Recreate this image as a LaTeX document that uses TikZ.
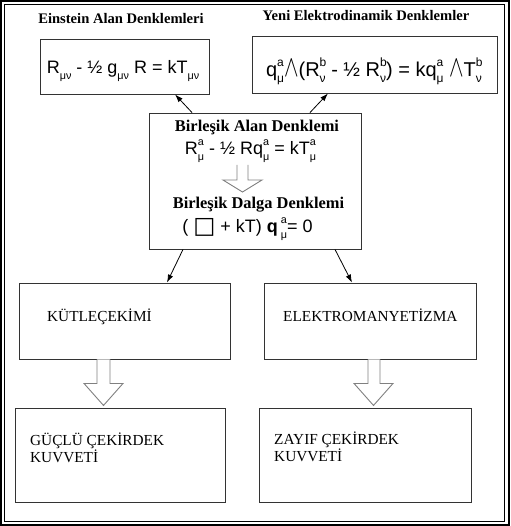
\documentclass[tikz,border=0pt]{standalone}
\usepackage{fontspec}
\usepackage{graphicx}
\setmainfont{Liberation Serif}
\newfontfamily\ar{Liberation Sans}
\newfontfamily\dv{DejaVu Sans}
\usetikzlibrary{arrows.meta}
\newcommand\Sub[1]{\raisebox{-0.3em}{\scalebox{0.6}{#1}}}
\newcommand\Sup[1]{\raisebox{0.5em}{\scalebox{0.6}{#1}}}
\newcommand\supsub[2]{\rlap{\Sup{#1}}\Sub{#2}}
\newcommand\wedgesym{\scalebox{1.05}[1.45]{$\wedge$}}
\begin{document}
\begin{tikzpicture}[x=1pt,y=-1pt,
  box/.style={draw=black!80, line width=0.9pt, inner sep=0pt},
  ttl/.style={font=\fontsize{14.6}{17}\selectfont\bfseries, inner sep=0pt, anchor=base},
  lbl/.style={font=\fontsize{15.3}{17}\selectfont, inner sep=0pt, anchor=base west, align=left},
  eq/.style={font=\ar\fontsize{18}{22}\selectfont, inner sep=0pt, anchor=base},
  arr/.style={draw=black, line width=0.8pt, -{Latex[length=8pt,width=5.5pt]}},
  hollow/.style={draw=black!50, line width=0.9pt, fill=white, line join=miter}]
\useasboundingbox (0,0) rectangle (510,526);
\draw[line width=2pt] (1,1) rectangle (509,525);
\draw[line width=1.5pt] (4.5,4.5) rectangle (504.5,521.5);

% boxes
\node[box, minimum width=169pt, minimum height=55pt] (b1) at (124.5,66.5) {};
\node[box, minimum width=245pt, minimum height=57pt] (b2) at (374.5,64.5) {};
\node[box, minimum width=212pt, minimum height=136pt] (c) at (255,181) {};
\node[box, minimum width=211pt, minimum height=76pt] (kut) at (124.5,321) {};
\node[box, minimum width=212pt, minimum height=76pt] (elk) at (370,321) {};
\node[box, minimum width=210pt, minimum height=94pt] (guc) at (120,455) {};
\node[box, minimum width=212pt, minimum height=94pt] (zay) at (365,455) {};

% titles
\node[ttl] (t1) at (121,23.5) {Einstein Alan Denklemleri};
\node[ttl] (t2) at (366,21) {Yeni Elektrodinamik Denklemler};
\node[eq] (f1) at (123,74) {R\Sub{μν} - ½ g\Sub{μν} R = kT\Sub{μν}};
\node[eq, font=\ar\fontsize{20}{24}\selectfont] (f2) at (374,77) {q\supsub{a}{μ}\wedgesym(R\supsub{b}{ν} - ½ R\supsub{b}{ν}) = kq\supsub{a}{μ} \wedgesym T\supsub{b}{ν}};

% central texts
\node[ttl, font=\fontsize{16.4}{19}\selectfont\bfseries] (t3) at (257,132) {Birleşik Alan Denklemi};
\node[eq] (f3) at (250.5,155) {R\supsub{a}{μ} - ½ Rq\supsub{a}{μ} = kT\supsub{a}{μ}};
\node[ttl, font=\fontsize{16.4}{19}\selectfont\bfseries] (t4) at (258.5,208) {Birleşik Dalga Denklemi};
\node[eq] (f4) at (247.5,233) {( \raisebox{-0.05em}{\scalebox{1.3}{\dv □}} + kT) \textbf{q}\,\supsub{a}{μ}= 0};

% lower texts
\node[lbl] (l1) at (47,321) {KÜTLEÇEKİMİ};
\node[lbl] (l2) at (283,321) {ELEKTROMANYETİZMA};
\node[lbl] (l3) at (30,462.7) {GÜÇLÜ ÇEKİRDEK\\KUVVETİ};
\node[lbl] (l4) at (274,461.7) {ZAYIF ÇEKİRDEK\\KUVVETİ};

% thin arrows
\draw[arr] ([xshift=-63pt]c.north) -- ([xshift=50.5pt]b1.south);
\draw[arr] ([xshift=55pt]c.north) -- ([xshift=-46.5pt]b2.south);
\draw[arr] ([xshift=-72pt]c.south) -- ([xshift=42.5pt]kut.north);
\draw[arr] ([xshift=80pt]c.south) -- ([xshift=-18pt]elk.north);

% hollow arrows
\coordinate (ca) at (237,165);
\draw[hollow] (ca) -- ++(0,15) -- ++(-14,0) -- ++(19.5,12) -- ++(19.5,-12) -- ++(-14,0) -- ++(0,-15);
\draw[hollow] ([xshift=-27.5pt]kut.south) -- ++(0,24) -- ++(-13,0) -- ++(19.5,22) -- ++(19.5,-22) -- ++(-13,0) -- ++(0,-24);
\draw[hollow] ([xshift=-2pt]elk.south) -- ++(0,24) -- ++(-14,0) -- ++(19.5,22) -- ++(19.5,-22) -- ++(-13,0) -- ++(0,-24);
\end{tikzpicture}
\end{document}
